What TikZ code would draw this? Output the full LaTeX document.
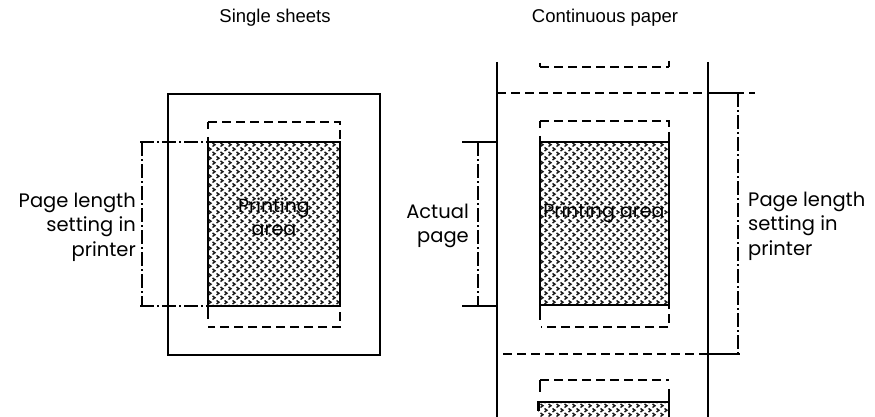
\documentclass[tikz,border=0pt]{standalone}
\usepackage{fontspec}
\setmainfont{Poppins}
\newfontfamily\titlefont{Liberation Sans}
\usetikzlibrary{patterns}
\pgfdeclarepatternformonly{chevrons}{\pgfpoint{-1pt}{-1pt}}{\pgfpoint{9pt}{10pt}}{\pgfpoint{8pt}{9pt}}{%
  \pgfsetlinewidth{1.4pt}%
  \pgfpathmoveto{\pgfpoint{0.5pt}{8.5pt}}\pgfpathlineto{\pgfpoint{3pt}{6.8pt}}\pgfpathlineto{\pgfpoint{0.5pt}{5pt}}%
  \pgfpathmoveto{\pgfpoint{4.5pt}{4pt}}\pgfpathlineto{\pgfpoint{7pt}{2.3pt}}\pgfpathlineto{\pgfpoint{4.5pt}{0.5pt}}%
  \pgfusepath{stroke}}
\begin{document}
\begin{tikzpicture}[x=1pt,y=-1pt,
  solidline/.style={line width=1.9pt},
  dashline/.style={line width=1.9pt, dash pattern=on 9pt off 5pt},
  dashdotline/.style={line width=1.9pt, dash pattern=on 14pt off 3pt on 2pt off 3pt},
  parea/.style={pattern=chevrons, pattern color=black!90},
  pborder/.style={line width=1.9pt},
  lbl/.style={font=\fontsize{19.5}{24.5}\selectfont, inner sep=0pt},
  inlbl/.style={font=\fontsize{19}{23}\selectfont, text=black, inner sep=0pt, align=center},
  ttl/.style={font=\titlefont\fontsize{18.5}{20}\selectfont, inner sep=0pt}]
\useasboundingbox (0,0) rectangle (875,417);

% titles
\node[ttl] (t1) at (275,18) {Single sheets};
\node[ttl] (t2) at (605,18) {Continuous paper};

% ---------- single sheet ----------
\draw[solidline] (168,94) rectangle (380,355);
\draw[dashline] (208,122) -- (340,122) -- (340,327) -- (208,327);
\draw[solidline] (208,122) -- (208,129);
\fill[parea] (208,142) rectangle (340,306);
\draw[pborder] (208,142) rectangle (340,306);
\draw[solidline] (208,137) -- (208,319);
\coordinate (lt) at (140,142);
\coordinate (lb) at (140,306);
\draw[dashdotline] (lt) -- (208,142);
\draw[dashdotline] (lb) -- (208,306);
\draw[dashdotline] (142,142) -- (142,306);
\node[lbl, align=right, anchor=east] (plL) at (136,227) {Page length\\setting in\\printer};
\node[inlbl] (pa1) at (274,217) {Printing\\area};

% ---------- continuous paper ----------
\draw[solidline] (497,62) -- (497,417);
\draw[solidline] (708,62) -- (708,417);
% top partial page
\draw[dashline] (540,67) -- (669,67);
\draw[solidline] (669,61) -- (669,67);
\draw[solidline] (540,63) -- (540,67);
% top perforation
\draw[dashline] (497,93) -- (755,93);
\draw[solidline] (708,93) -- (738,93);
% middle page
\draw[dashline] (540,121) -- (669,121) -- (669,327) -- (541,327);
\draw[solidline] (540,121) -- (540,128);
\fill[parea] (540,142) rectangle (669,305);
\draw[pborder] (540,142) rectangle (669,305);
\draw[solidline] (540,136) -- (540,320);
\node[inlbl] (pa2) at (604,213) {Printing area};
% bottom perforation
\draw[dashline] (503,354) -- (708,354);
\draw[solidline] (708,354) -- (740,354);
\draw[dashdotline] (738,93) -- (738,354);
% actual page bracket
\draw[solidline] (462,142) -- (497,142);
\draw[solidline] (462,306) -- (497,306);
\draw[dashdotline] (478,142) -- (478,306);
\node[lbl, align=right, anchor=east] (act) at (469,226) {Actual\\page};
\node[lbl, align=left, anchor=west] (plR) at (748,226) {Page length\\setting in\\printer};
% bottom partial page
\draw[dashline] (540,380) -- (669,380);
\draw[solidline] (540,380) -- (540,392);
\fill[parea] (538,402) rectangle (669,417);
\draw[pborder] (537,402) -- (669,402);
\draw[solidline] (669,389) -- (669,417);
\draw[line width=3pt] (538.5,402) -- (538.5,411);
\end{tikzpicture}
\end{document}
